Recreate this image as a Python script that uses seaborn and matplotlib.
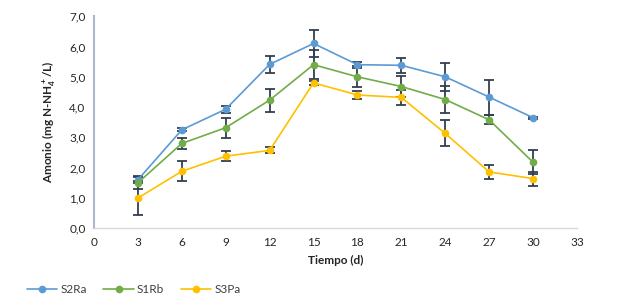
import numpy as np
import pandas as pd
import matplotlib
matplotlib.use("Agg")
import matplotlib.pyplot as plt
from matplotlib.ticker import FuncFormatter
import seaborn as sns

# ====== datos ======
dias = [3, 6, 9, 12, 15, 18, 21, 24, 27, 30]
series = ["S2Ra", "S1Rb", "S3Pa"]

s2ra = [1.60, 3.25, 3.93, 5.41, 6.10, 5.40, 5.38, 5.00, 4.33, 3.65]
s1rb = [1.50, 2.80, 3.32, 4.23, 5.40, 5.00, 4.68, 4.25, 3.58, 2.18]
s3pa = [1.00, 1.88, 2.38, 2.57, 4.80, 4.40, 4.32, 3.13, 1.86, 1.64]

err_s2ra = [0.11, 0.05, 0.11, 0.29, 0.43, 0.10, 0.24, 0.46, 0.58, 0.03]
err_s1rb = [0.20, 0.19, 0.33, 0.38, 0.48, 0.35, 0.34, 0.46, 0.15, 0.40]
err_s3pa = [0.55, 0.33, 0.17, 0.10, 0.07, 0.12, 0.24, 0.43, 0.23, 0.23]

colores = ["#5B9BD5", "#70AD47", "#FFC000"]

df = pd.DataFrame({
    "Tiempo": dias * 3,
    "Amonio": s2ra + s1rb + s3pa,
    "Serie": [s for s in series for _ in dias],
})
errores = {"S2Ra": err_s2ra, "S1Rb": err_s1rb, "S3Pa": err_s3pa}

# ====== estilo ======
sns.set_style("white")
plt.rcParams["font.family"] = ["Lato", "DejaVu Sans"]
plt.rcParams["font.size"] = 8.5
plt.rcParams["mathtext.fontset"] = "custom"
plt.rcParams["mathtext.bf"] = "Lato:bold"
plt.rcParams["mathtext.rm"] = "Lato:bold"
plt.rcParams["mathtext.default"] = "bf"

fig = plt.figure(figsize=(6.2, 3.06), dpi=100)
ax = fig.add_axes([0.1516, 0.254, 0.779, 0.693])

sns.lineplot(data=df, x="Tiempo", y="Amonio", hue="Serie", palette=colores,
             marker="o", markersize=5.5, markeredgewidth=0, linewidth=1.2,
             ax=ax, legend=False, zorder=3)

# barras de error
for s in series:
    d = df[df["Serie"] == s]
    ax.errorbar(d["Tiempo"], d["Amonio"], yerr=errores[s], fmt="none",
                ecolor="#333F50", elinewidth=1.3, capsize=3.3, capthick=1.3, zorder=2)

ax.set_xlim(0, 33)
ax.set_ylim(0, 7)
ax.set_xticks(range(0, 34, 3))
ax.set_yticks(np.arange(0, 7.1, 1))
ax.yaxis.set_major_formatter(FuncFormatter(lambda v, p: f"{v:.1f}".replace(".", ",")))
ax.tick_params(axis="both", length=0, pad=6, colors="#262626", labelsize=8.5)

for lado in ["top", "right"]:
    ax.spines[lado].set_visible(False)
ax.spines["left"].set_color("#A9B8CF")
ax.spines["left"].set_linewidth(1.5)
ax.spines["bottom"].set_color("#D9D9D9")
ax.spines["bottom"].set_linewidth(1)

ax.set_xlabel("Tiempo (d)", fontweight="bold", color="#262626", labelpad=5, fontsize=8.5)
ax.set_ylabel("Amonio (mg N-NH$_4^+$/L)", fontweight="bold", color="#262626",
              labelpad=9, fontsize=8.5)

# leyenda
handles = [plt.Line2D([0], [0], color=c, marker="o", markersize=5.5, linewidth=1.2,
                      markeredgewidth=0) for c in colores]
fig.legend(handles, series, loc="center left", bbox_to_anchor=(0.043, 0.055), ncol=3,
           frameon=False, handlelength=2.6, handletextpad=0.25, columnspacing=1.4,
           fontsize=8.5, labelcolor="#404040", borderpad=0, borderaxespad=0)

fig.savefig("out.png", dpi=100)
